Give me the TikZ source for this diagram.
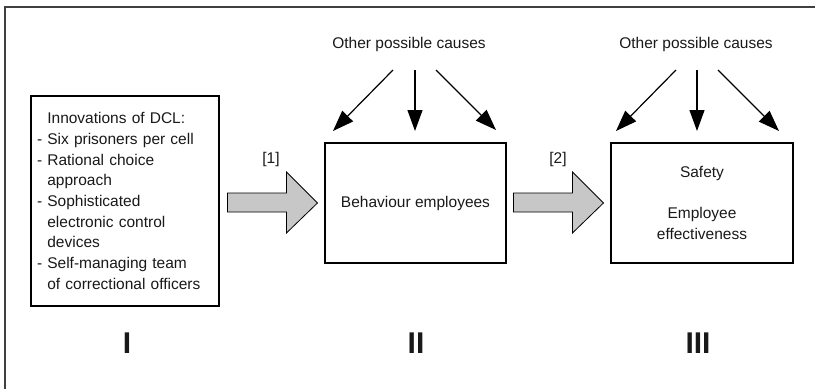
\documentclass[tikz,border=0pt]{standalone}
\usepackage{fontspec}
\setmainfont{Liberation Sans}
\usetikzlibrary{arrows.meta, calc}

\begin{document}
\begin{tikzpicture}[x=1pt, y=-1pt,
    every node/.style={font=\fontsize{15.5}{20.7}\selectfont, text=black!90},
    bx/.style={draw, line width=1.1pt, align=center, inner sep=0pt},
    carr/.style={-{Triangle[length=21pt, width=15pt]}, line width=1.2pt},
    fatarr/.style={draw, line width=0.8pt, fill=black!22, line join=miter},
    numlbl/.style={font=\fontsize{30}{30}\selectfont\bfseries}
  ]
  \useasboundingbox (0,0) rectangle (815,389);
  \draw[black!75, line width=1.3pt] (815,7) -- (5,7) -- (5,389);

  % the three stages
  \node[bx, align=left, text width=176pt, inner xsep=6pt, minimum height=210pt]
        (dcl) at (125,201)
        {\hphantom{- }Innovations of DCL:\\
         - Six prisoners per cell\\
         - Rational choice\\
         \hphantom{- }approach\\
         - Sophisticated\\
         \hphantom{- }electronic control\\
         \hphantom{- }devices\\
         - Self-managing team\\
         \hphantom{- }of correctional officers};
  \node[bx, minimum width=181pt, minimum height=120pt] (beh) at (415.5,203)
        {Behaviour employees};
  \node[bx, minimum width=182pt, minimum height=120pt] (eff) at (702,203)
        {Safety\\[20pt]Employee\\effectiveness};

  \node (oc1) at (409,44) {Other possible causes};
  \node (oc2) at (696,44) {Other possible causes};

  \node (lab1) at (271,159) {[1]};
  \node (lab2) at (558,159) {[2]};

  \node[numlbl] (num1) at (127,343) {I};
  \node[numlbl] (num2) at (416,343) {II};
  \node[numlbl] (num3) at (698,343) {III};

  % arrow ends
  \coordinate (oc1l) at (393,70);
  \coordinate (oc1m) at (415,70);
  \coordinate (oc1r) at (436,70);
  \coordinate (beh1) at (333,131);
  \coordinate (beh2) at (415,131);
  \coordinate (beh3) at (496,130);
  \coordinate (oc2l) at (676,70);
  \coordinate (oc2m) at (697,70);
  \coordinate (oc2r) at (718,70);
  \coordinate (eff1) at (616,131);
  \coordinate (eff2) at (697,131);
  \coordinate (eff3) at (779,131);

  \draw[carr] (oc1l) -- (beh1);
  \draw[carr] (oc1m) -- (beh2);
  \draw[carr] (oc1r) -- (beh3);
  \draw[carr] (oc2l) -- (eff1);
  \draw[carr] (oc2m) -- (eff2);
  \draw[carr] (oc2r) -- (eff3);

  % block arrows
  \draw[fatarr] ($(dcl.east |- beh.west)+(8,-10)$) -- ($(beh.west)+(-38,-10)$)
        -- ($(beh.west)+(-38,-31)$) -- ($(beh.west)+(-7,0)$)
        -- ($(beh.west)+(-38,30)$) -- ($(beh.west)+(-38,9)$)
        -- ($(dcl.east |- beh.west)+(8,9)$) -- cycle;
  \draw[fatarr] ($(beh.east)+(7,-10)$) -- ($(eff.west)+(-38,-10)$)
        -- ($(eff.west)+(-38,-31)$) -- ($(eff.west)+(-7,0)$)
        -- ($(eff.west)+(-38,30)$) -- ($(eff.west)+(-38,9)$)
        -- ($(beh.east)+(7,9)$) -- cycle;
\end{tikzpicture}
\end{document}
